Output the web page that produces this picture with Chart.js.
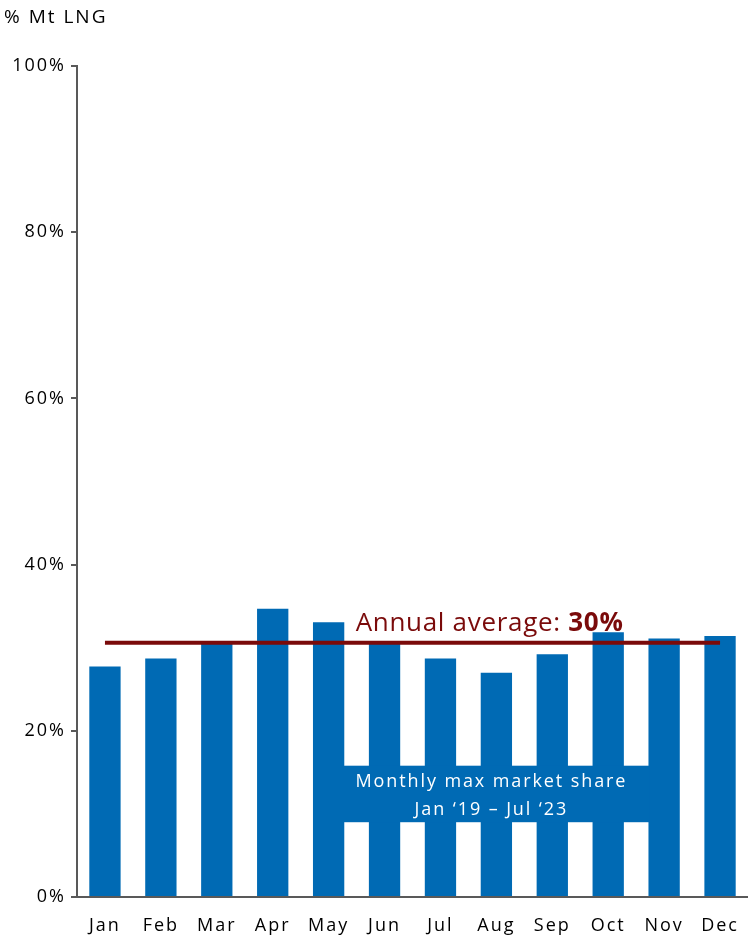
<!DOCTYPE html>
<html>
<head>
<meta charset="utf-8">
<script src="https://cdn.jsdelivr.net/npm/chart.js@4"></script>
<style>
  html, body { margin: 0; padding: 0; background: #fff; }
  #wrap { width: 748px; height: 937px; position: relative; }
</style>
</head>
<body>
<div id="wrap"><canvas id="lngShareChart"></canvas></div>
<script>
const months = ['Jan', 'Feb', 'Mar', 'Apr', 'May', 'Jun', 'Jul', 'Aug', 'Sep', 'Oct', 'Nov', 'Dec'];
const monthlyMaxShare = [27.75, 28.7, 30.6, 34.7, 33.05, 30.6, 28.7, 27.0, 29.2, 31.85, 31.1, 31.4];
const annualAverage = [30.6, 30.6, 30.6, 30.6, 30.6, 30.6, 30.6, 30.6, 30.6, 30.6, 30.6, 30.6];
const yTicks = [0, 20, 40, 60, 80, 100];

const BLUE = '#006AB4';
const DARK_RED = '#7A0A0A';
const FONT = "'Open Sans', sans-serif";

// wider letter spacing for the axis labels, like the source
const spacingPlugin = {
    id: 'spacing',
    beforeDraw(chart) { chart.ctx.letterSpacing = '2px'; },
};

// draws the unit label, the average label and the boxed note
const notesPlugin = {
    id: 'notes',
    afterDatasetsDraw(chart) {
        const ctx = chart.ctx;
        const x = chart.scales.x;
        const y = chart.scales.y;
        ctx.save();

        // unit label top-left
        ctx.fillStyle = '#000';
        ctx.letterSpacing = '2px';
        ctx.font = '19px ' + FONT;
        ctx.textBaseline = 'alphabetic';
        ctx.textAlign = 'left';
        ctx.fillText('% Mt LNG', 4, 23);

        // annual average label
        const startX = x.getPixelForValue(4) + 27;
        const baseY = y.getPixelForValue(annualAverage[0]) - 12;
        ctx.fillStyle = DARK_RED;
        ctx.letterSpacing = '0.7px';
        ctx.font = '26px ' + FONT;
        const part1 = 'Annual average: ';
        ctx.fillText(part1, startX, baseY);
        const w1 = ctx.measureText(part1).width;
        ctx.font = 'bold 26px ' + FONT;
        ctx.fillText('30%', startX + w1, baseY);

        // blue note box across the bars
        const left = x.getPixelForValue(4) + 16;
        const right = x.getPixelForValue(10) - 16;
        const top = y.getPixelForValue(15.8);
        const bottom = y.getPixelForValue(9);
        ctx.fillStyle = BLUE;
        ctx.fillRect(left - 1, top, right - left + 2, bottom - top);
        ctx.fillStyle = '#fff';
        ctx.letterSpacing = '1.9px';
        ctx.font = '18px ' + FONT;
        ctx.textAlign = 'center';
        ctx.textBaseline = 'middle';
        const cx = (left + right) / 2 - 5;
        ctx.fillText('Monthly max market share', cx, top + 16);
        ctx.fillText('Jan \u201819 \u2013 Jul \u201823', cx, top + 44);

        ctx.restore();
    }
};

new Chart(document.getElementById('lngShareChart'), {
    data: {
        labels: months,
        datasets: [
            {
                type: 'line',
                label: 'Annual average',
                data: annualAverage,
                borderColor: DARK_RED,
                borderWidth: 4,
                pointRadius: 0,
                order: 0,
            },
            {
                type: 'bar',
                label: 'Monthly max market share',
                data: monthlyMaxShare,
                backgroundColor: BLUE,
                barPercentage: 0.56,
                categoryPercentage: 1,
                order: 1,
            },
        ],
    },
    options: {
        responsive: true,
        maintainAspectRatio: false,
        animation: false,
        layout: { padding: { top: 66, right: 0, bottom: 0, left: 0 } },
        plugins: {
            legend: { display: false },
            tooltip: { enabled: false },
        },
        scales: {
            x: {
                grid: { display: false },
                border: { color: '#595959', width: 2 },
                ticks: {
                    color: '#000',
                    font: { family: FONT, size: 18 },
                    padding: 10,
                    maxRotation: 0,
                },
                afterFit(scale) { scale.height = 40; },
            },
            y: {
                min: 0,
                max: 100,
                afterBuildTicks(scale) { scale.ticks = yTicks.map(v => ({ value: v })); },
                grid: { drawOnChartArea: false, drawTicks: true, tickLength: 6, color: '#595959', lineWidth: 2 },
                border: { color: '#595959', width: 2 },
                ticks: {
                    color: '#000',
                    font: { family: FONT, size: 18 },
                    padding: 5,
                    callback: v => v + '%',
                },
                afterFit(scale) { scale.width = 77; },
            },
        },
    },
    plugins: [spacingPlugin, notesPlugin],
});
</script>
</body>
</html>
